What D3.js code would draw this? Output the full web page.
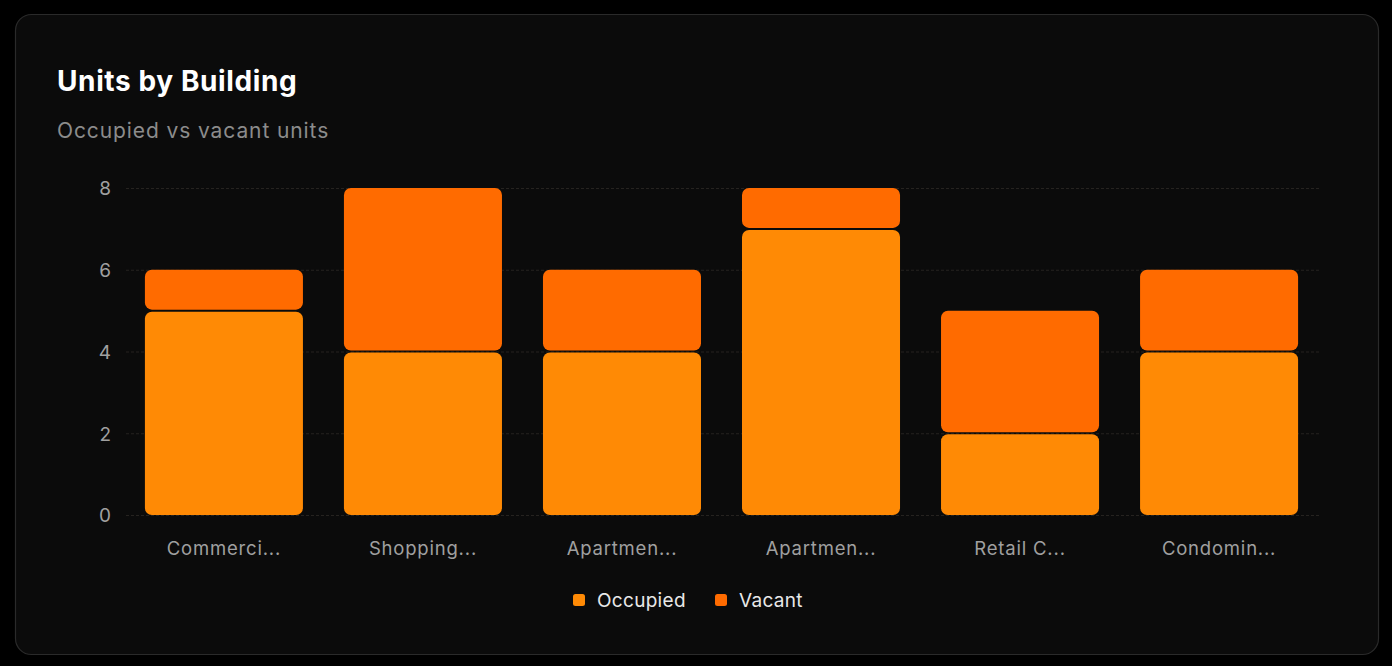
<!DOCTYPE html>
<html><head><meta charset="utf-8">
<script src="https://cdn.jsdelivr.net/npm/d3@7"></script>
<style>
html,body{margin:0;padding:0;background:#000;}
body{width:1392px;height:666px;overflow:hidden;font-family:Inter,"Noto Sans",sans-serif;}
</style></head>
<body><svg id="chart" width="1392" height="666"></svg>
<script>
const categories = ["Commercial Tower","Shopping Center","Apartment Block A","Apartment Block B","Retail Center","Condominium"];
const occupied = [5,4,4,7,2,4];
const vacant = [1,4,2,1,3,2];
const yTicks = [0,2,4,6,8];
const seriesNames = ["Occupied","Vacant"];
const seriesColors = ["#FF8A05","#FF6B00"];

const svg = d3.select("#chart");
svg.append("rect").attr("x",0).attr("y",0).attr("width",1392).attr("height",666).attr("fill","#000");
svg.append("rect").attr("x",15.5).attr("y",14.5).attr("width",1363).attr("height",640)
  .attr("rx",16).attr("fill","#0b0b0b").attr("stroke","#2a2a2a").attr("stroke-width",1.2);

svg.append("text").attr("x",57).attr("y",91).attr("fill","#fff").attr("font-size",28).attr("font-weight",700)
  .attr("letter-spacing","0.6").text("Units by Building");
svg.append("text").attr("x",57).attr("y",138).attr("fill","#8c8c8c").attr("font-size",21)
  .attr("letter-spacing","0.9").text("Occupied vs vacant units");

const x = d3.scaleBand().domain(categories).range([126,1317]).paddingInner(0.206).paddingOuter(0.095);
const y = d3.scaleLinear().domain([0,8]).range([515,188]);

// grid
svg.append("g").selectAll("line").data(yTicks).join("line")
  .attr("x1",126).attr("x2",1320).attr("y1",d=>y(d)+0.5).attr("y2",d=>y(d)+0.5)
  .attr("stroke","#262320").attr("stroke-width",1).attr("stroke-dasharray","3 2");

// y axis
const yAxis = svg.append("g").attr("transform","translate(111,0)")
  .call(d3.axisLeft(y).tickValues(yTicks).tickSize(0).tickPadding(0));
yAxis.select(".domain").remove();
yAxis.selectAll("text").attr("fill","#a0a0a0").attr("font-size",19).attr("font-family","Inter,sans-serif").attr("dy","0.36em");

// x axis
const trunc = s => s.length > 8 ? s.slice(0,8) + "..." : s;
const xAxis = svg.append("g").attr("transform","translate(0,515)")
  .call(d3.axisBottom(x).tickSize(0).tickPadding(27).tickFormat(trunc));
xAxis.select(".domain").remove();
xAxis.selectAll("text").attr("fill","#a0a0a0").attr("font-size",18.5).attr("letter-spacing","0.8")
  .attr("font-family","Inter,sans-serif").attr("dy","0.71em");

// stacked bars
const data = categories.map((c,i)=>({cat:c, Occupied:occupied[i], Vacant:vacant[i]}));
const stack = d3.stack().keys(seriesNames)(data);
const gap = 1;
stack.forEach((layer,li)=>{
  svg.append("g").selectAll("rect").data(layer).join("rect")
    .attr("x",d=>x(d.data.cat))
    .attr("width",x.bandwidth())
    .attr("y",d=>y(d[1]) + (li>0?0:gap))
    .attr("height",d=>Math.max(0,y(d[0])-y(d[1]) - gap))
    .attr("rx",7).attr("ry",7)
    .attr("fill",seriesColors[li]);
});

// legend
const legendItems = [{n:"Occupied",x:573},{n:"Vacant",x:715}];
const lg = svg.append("g");
legendItems.forEach((it,i)=>{
  lg.append("rect").attr("x",it.x).attr("y",594).attr("width",12).attr("height",12).attr("rx",2.5).attr("fill",seriesColors[i]);
  lg.append("text").attr("x",it.x+24).attr("y",607).attr("fill","#e8e8e8").attr("font-size",19)
    .attr("letter-spacing","0.3").text(seriesNames[i]);
});
</script></body></html>
